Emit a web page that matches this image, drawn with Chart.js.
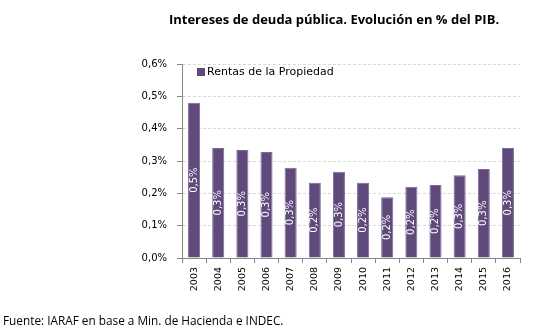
<!DOCTYPE html>
<html>
<head>
<meta charset="utf-8">
<script src="https://cdn.jsdelivr.net/npm/chart.js@4"></script>
<style>
  body { margin: 0; background: #fff; }
  canvas { display: block; }
</style>
</head>
<body>
<canvas id="chart" width="553" height="333"></canvas>
<script>
const years = ["2003", "2004", "2005", "2006", "2007", "2008", "2009", "2010", "2011", "2012", "2013", "2014", "2015", "2016"];
const rentas = [0.48, 0.34, 0.334, 0.328, 0.279, 0.233, 0.267, 0.233, 0.188, 0.22, 0.226, 0.256, 0.275, 0.34];
const yTicks = [0, 0.1, 0.2, 0.3, 0.4, 0.5, 0.6];

const titleText = "Intereses de deuda pública. Evolución en % del PIB.";
const sourceText = "Fuente: IARAF en base a Min. de Hacienda e INDEC.";
const seriesName = "Rentas de la Propiedad";

const purple = "#604a7b";

function pct(v) {
  return (Math.round(v * 10) / 10).toFixed(1).replace(".", ",") + "%";
}

// title, source line, legend box and the value labels inside bars
const extras = {
  id: "extras",
  afterDatasetsDraw(chart) {
    const ctx = chart.ctx;
    const meta = chart.getDatasetMeta(0);
    ctx.save();
    ctx.fillStyle = "#ffffff";
    ctx.font = "10px 'DejaVu Sans'";
    ctx.textAlign = "center";
    ctx.textBaseline = "middle";
    meta.data.forEach((bar, i) => {
      const y = (bar.y + bar.base) / 2;
      ctx.save();
      ctx.translate(bar.x, y);
      ctx.rotate(-Math.PI / 2);
      ctx.fillText(pct(rentas[i]), 0, 0);
      ctx.restore();
    });
    ctx.restore();
  },
  afterDraw(chart) {
    const ctx = chart.ctx;
    const area = chart.chartArea;
    ctx.save();
    ctx.fillStyle = "#000000";
    ctx.textBaseline = "middle";

    ctx.font = "bold 13px 'Open Sans'";
    ctx.textAlign = "center";
    ctx.fillText(titleText, 334, 20);

    ctx.font = "11.8px 'Open Sans'";
    ctx.textAlign = "left";
    ctx.fillText(sourceText, 3, 322);

    // legend inside the plot
    ctx.fillStyle = purple;
    ctx.fillRect(area.left + 15, 68, 8, 8);
    ctx.fillStyle = "#000000";
    ctx.font = "11px 'DejaVu Sans'";
    ctx.fillText(seriesName, area.left + 25, 72.5);
    ctx.restore();
  }
};

new Chart(document.getElementById("chart"), {
  type: "bar",
  data: {
    labels: years,
    datasets: [{
      label: seriesName,
      data: rentas,
      backgroundColor: purple,
      borderColor: "#7d6a98",
      borderWidth: 1,
      barPercentage: 0.5,
      categoryPercentage: 1.0
    }]
  },
  options: {
    responsive: false,
    animation: false,
    layout: { padding: { top: 64, right: 33, bottom: 0, left: 0 } },
    plugins: {
      legend: { display: false },
      title: { display: false },
      tooltip: { enabled: false }
    },
    scales: {
      x: {
        offset: true,
        afterFit: s => { s.height = 75; },
        grid: {
          offset: true,
          drawOnChartArea: false,
          drawTicks: true,
          tickLength: 5,
          tickColor: "#868686"
        },
        border: { color: "#868686" },
        ticks: {
          minRotation: 90,
          maxRotation: 90,
          padding: 4,
          color: "#000000",
          font: { family: "'DejaVu Sans'", size: 9.5 }
        }
      },
      y: {
        min: 0,
        max: 0.6,
        afterFit: s => { s.width = 182; },
        afterBuildTicks: s => { s.ticks = yTicks.map(v => ({ value: v })); },
        grid: {
          color: "#d9d9d9",
          tickLength: 5,
          tickColor: "#868686",
          tickBorderDash: []
        },
        border: { color: "#868686", dash: [3, 2] },
        ticks: {
          padding: 10,
          color: "#000000",
          font: { family: "'DejaVu Sans'", size: 10 },
          callback: v => pct(v)
        }
      }
    }
  },
  plugins: [extras]
});
</script>
</body>
</html>
